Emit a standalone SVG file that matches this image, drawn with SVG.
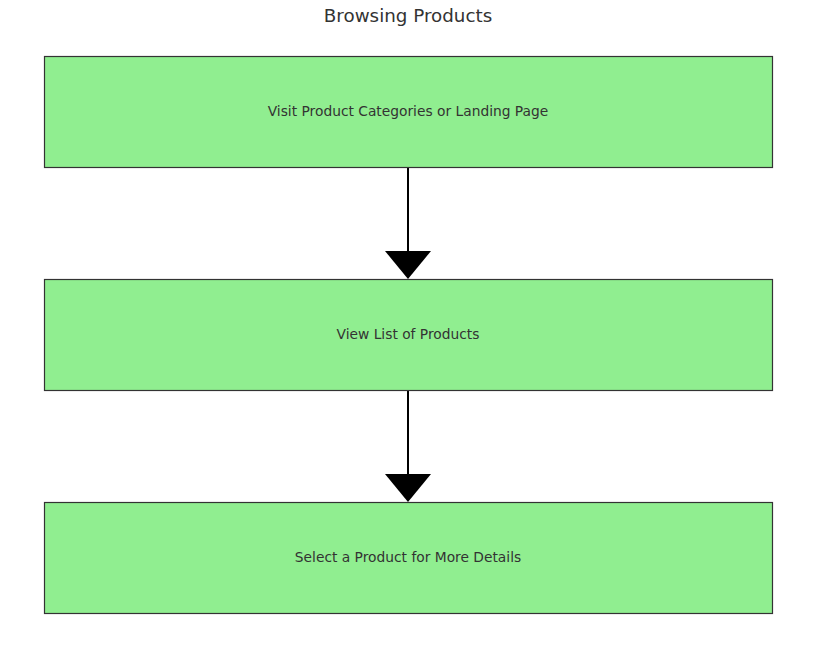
<svg xmlns="http://www.w3.org/2000/svg" width="815" height="650" viewBox="0 0 815 650">
<style>
.node rect{fill:#90ee90;stroke:#333;stroke-width:1.2}
.lbl{font-family:"DejaVu Sans",sans-serif;font-size:13.8px;fill:#333;text-anchor:middle}
.title{font-family:"DejaVu Sans",sans-serif;font-size:18.3px;fill:#333;text-anchor:middle}
.edge{stroke:#000;stroke-width:2;fill:none}
</style>
<rect width="815" height="650" fill="#fff"/>
<text class="title" x="408" y="21.5">Browsing Products</text>
<g id="connectors">
<line class="edge" x1="408" y1="167" x2="408" y2="252"/>
<polygon points="385,251 431,251 408,279" fill="#000"/>
<line class="edge" x1="408" y1="390" x2="408" y2="475"/>
<polygon points="385,474 431,474 408,502" fill="#000"/>
</g>
<g id="n1" class="node"><rect x="44.5" y="56.5" width="728" height="111"/><text class="lbl" x="408" y="115.5">Visit Product Categories or Landing Page</text></g>
<g id="n2" class="node"><rect x="44.5" y="279.5" width="728" height="111"/><text class="lbl" x="408" y="338.5">View List of Products</text></g>
<g id="n3" class="node"><rect x="44.5" y="502.5" width="728" height="111"/><text class="lbl" x="408" y="561.5">Select a Product for More Details</text></g>
</svg>
